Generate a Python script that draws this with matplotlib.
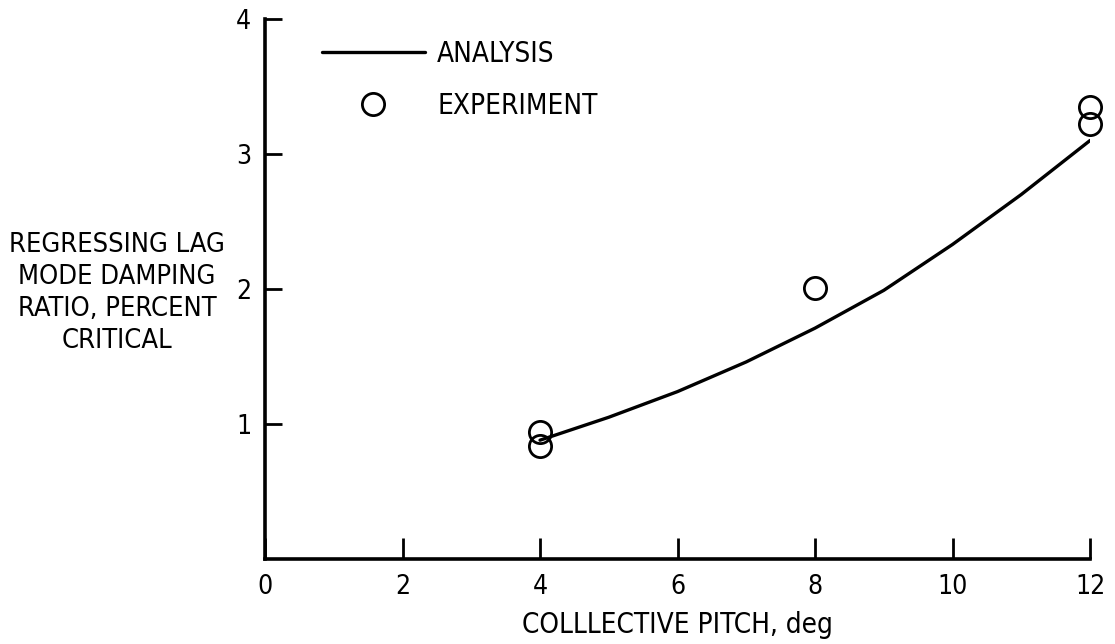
import numpy as np
import matplotlib
matplotlib.use("Agg")
import matplotlib.pyplot as plt

# analysis curve
pitch_analysis = [4, 5, 6, 7, 8, 9, 10, 11, 12]
damping_analysis = [0.88, 1.05, 1.24, 1.46, 1.71, 1.99, 2.33, 2.70, 3.10]

# experiment points
pitch_exp = [4, 4, 8, 12, 12]
damping_exp = [0.94, 0.84, 2.01, 3.35, 3.22]

x_ticks = [0, 2, 4, 6, 8, 10, 12]
y_ticks = [1, 2, 3, 4]

plt.rcParams['font.family'] = ['DejaVu Sans']
plt.rcParams['font.stretch'] = 'condensed'

fig = plt.figure(figsize=(11.15, 6.44), dpi=100)
ax = fig.add_axes([0.2377, 0.132, 0.7399, 0.8385])

ax.plot(pitch_analysis, damping_analysis, color='black', linewidth=2.4,
        solid_capstyle='round', label='ANALYSIS')
ax.plot(pitch_exp, damping_exp, linestyle='none', marker='o', markersize=16,
        markerfacecolor='none', markeredgecolor='black', markeredgewidth=2,
        label='EXPERIMENT', clip_on=False)

ax.set_xlim(0, 12)
ax.set_ylim(0, 4)
ax.spines['top'].set_visible(False)
ax.spines['right'].set_visible(False)
ax.spines['left'].set_linewidth(2.6)
ax.spines['bottom'].set_linewidth(2.6)

ax.set_xticks(x_ticks)
ax.set_yticks(y_ticks)
ax.tick_params(axis='x', direction='in', length=15, width=2, labelsize=19, pad=11)
ax.tick_params(axis='y', direction='in', length=12, width=2, labelsize=19, pad=10)

ax.set_xlabel('COLLLECTIVE PITCH, deg', fontsize=20, labelpad=8)
fig.text(0.105, 0.545, 'REGRESSING LAG\nMODE DAMPING\nRATIO, PERCENT\nCRITICAL',
         ha='center', va='center', fontsize=19.5, linespacing=1.3)

ax.legend(loc='upper left', bbox_to_anchor=(322 / 1115, (644 - 40) / 644),
          bbox_transform=fig.transFigure, frameon=False, fontsize=20,
          handlelength=3.7, handletextpad=0.45, labelspacing=0.85,
          borderpad=0, borderaxespad=0)

fig.savefig('out.png', dpi=100, facecolor='white')
